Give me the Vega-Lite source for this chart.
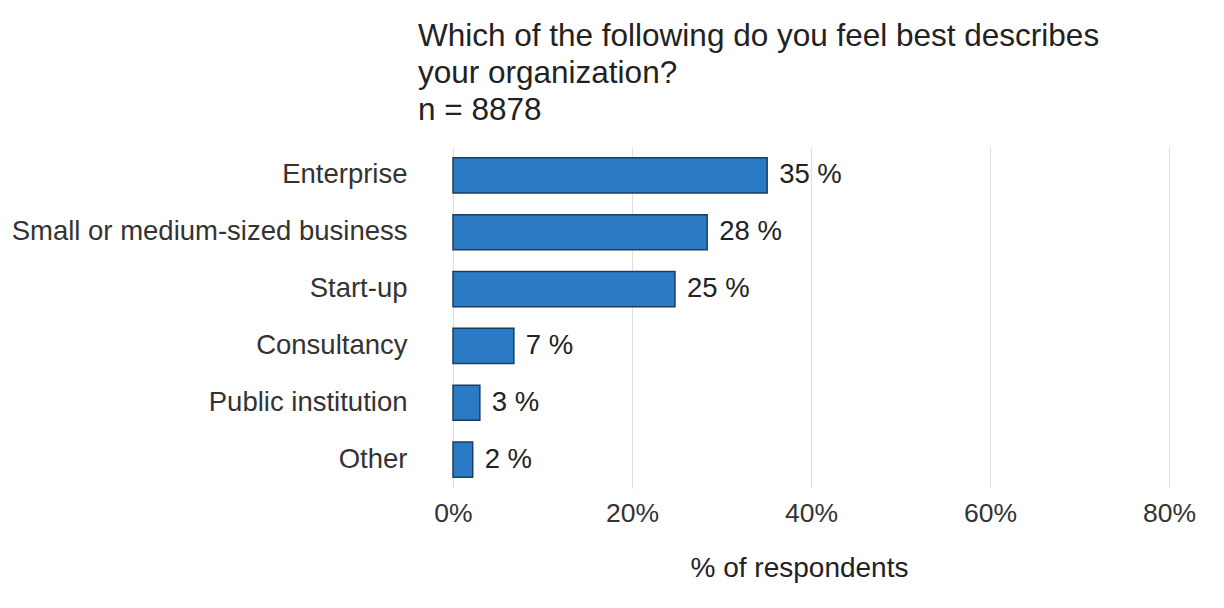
{
  "$schema": "https://vega.github.io/schema/vega-lite/v6.json",
  "width": 716,
  "height": 341,
  "autosize": {"type": "none"},
  "padding": {"left": 453, "top": 147, "right": 55, "bottom": 120},
  "background": "#ffffff",
  "config": {
    "font": "Liberation Sans",
    "view": {"stroke": null}
  },
  "title": {
    "text": ["Which of the following do you feel best describes", "your organization?", "n = 8878"],
    "anchor": "start",
    "frame": "group",
    "dx": -35,
    "offset": 21,
    "fontSize": 31.5,
    "fontWeight": "normal",
    "lineHeight": 37,
    "color": "#222222",
    "font": "Liberation Sans"
  },
  "data": {
    "values": [
      {"category": "Enterprise", "share": 35.1, "label": "35 %"},
      {"category": "Small or medium-sized business", "share": 28.4, "label": "28 %"},
      {"category": "Start-up", "share": 24.8, "label": "25 %"},
      {"category": "Consultancy", "share": 6.8, "label": "7 %"},
      {"category": "Public institution", "share": 3.0, "label": "3 %"},
      {"category": "Other", "share": 2.2, "label": "2 %"}
    ]
  },
  "encoding": {
    "y": {
      "field": "category",
      "type": "nominal",
      "sort": null,
      "scale": {"paddingInner": 0.38, "paddingOuter": 0.19},
      "axis": {
        "title": null,
        "ticks": false,
        "domain": false,
        "labelFontSize": 27.5,
        "labelColor": "#333333",
        "labelPadding": 46,
        "labelLimit": 600
      }
    },
    "x": {
      "field": "share",
      "type": "quantitative",
      "scale": {"domain": [0, 80], "nice": false},
      "axis": {
        "values": [0, 20, 40, 60, 80],
        "labelExpr": "datum.value + '%'",
        "labelFlush": false,
        "title": "% of respondents",
        "titleFontSize": 28,
        "titleFontWeight": "normal",
        "titleColor": "#222222",
        "titlePadding": 28,
        "titleX": 346,
        "titleAlign": "center",
        "labelFontSize": 26.5,
        "labelColor": "#333333",
        "labelPadding": 12,
        "ticks": false,
        "domain": false,
        "grid": true,
        "gridColor": "#dedede",
        "gridWidth": 1
      }
    }
  },
  "layer": [
    {
      "mark": {"type": "bar", "fill": "#2b7bc4", "stroke": "#1d3d5e", "strokeWidth": 1.5}
    },
    {
      "mark": {"type": "text", "align": "left", "baseline": "middle", "dx": 12, "fontSize": 27.5, "color": "#222222"},
      "encoding": {"text": {"field": "label"}}
    }
  ]
}
